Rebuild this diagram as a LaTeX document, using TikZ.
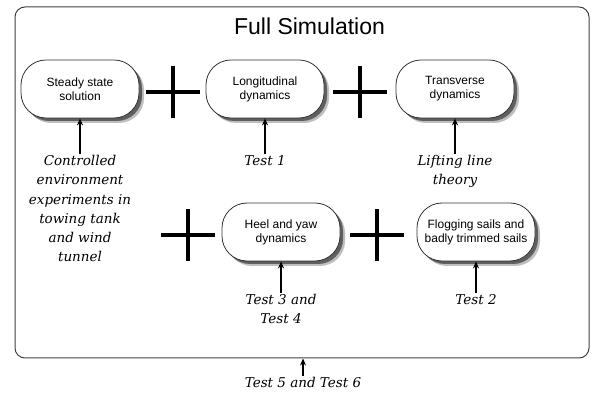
\documentclass[tikz,border=0pt]{standalone}
\usepackage{fontspec}
\usepackage{tikz}
\usetikzlibrary{arrows.meta,shadows}
\newfontfamily\arialfont{Liberation Sans}
\newfontfamily\serifit{DejaVu Serif}

\begin{document}
\begin{tikzpicture}[x=1pt,y=1pt,
  block/.style={draw=black!80,fill=white,line width=0.8pt,rounded corners=25pt,
    minimum width=118pt,minimum height=58pt,align=center,
    font=\arialfont\fontsize{12}{14}\selectfont,
    drop shadow={shadow xshift=5pt,shadow yshift=-5pt,opacity=0.25,fill=black},
    drop shadow={shadow xshift=3pt,shadow yshift=-3pt,opacity=0.5,fill=black}},
  test/.style={anchor=north,align=center,inner sep=1pt,
    font=\serifit\itshape\fontsize{13.5}{19.3}\selectfont},
  arr/.style={-{Stealth[length=7pt,width=6pt]},line width=2pt},
  plus/.style={line width=4pt}]
\useasboundingbox (0,0) rectangle (596,401);

% Frame
\node[draw=black!75,line width=1pt,rounded corners=10pt,minimum width=574pt,
  minimum height=351pt,inner sep=0pt] (full) at (302,218.5) {};
\node[anchor=base,font=\arialfont\fontsize{23}{26}\selectfont] (title) at (309.5,366) {Full Simulation};

% Blocks
\node[block] (steady) at (80,312) {Steady state\\solution};
\node[block] (longit) at (265,312) {Longitudinal\\dynamics};
\node[block] (transv) at (455,312) {Transverse\\dynamics};
\node[block] (heel) at (281,169) {Heel and yaw\\dynamics};
\node[block] (flog) at (476,169) {Flogging sails and\\badly trimmed sails};

% Plus signs
\foreach \px/\py in {173/309,360/309,188/166,377/166} {
  \draw[plus] (\px-27,\py) -- (\px+27,\py);
  \draw[plus] (\px,\py-26) -- (\px,\py+26);
}

% Tests
\node[test] (ctrl) at (80,247) {Controlled\\environment\\experiments in\\towing tank\\and wind\\tunnel};
\node[test] (test1) at (265,247) {Test 1};
\node[test] (lift) at (455,247) {Lifting line\\theory};
\node[test] (test34) at (281,108) {Test 3 and\\Test 4};
\node[test] (test2) at (476,108) {Test 2};
\node[test] (test56) at (303,25) {Test 5 and Test 6};

% Arrows
\draw[arr] (ctrl.north) -- (steady);
\draw[arr] (test1.north) -- (longit);
\draw[arr] (lift.north) -- (transv);
\draw[arr] (test34.north) -- (heel);
\draw[arr] (test2.north) -- (flog);
\draw[arr] (test56.north) -- (test56.north |- full.south);
\end{tikzpicture}
\end{document}
